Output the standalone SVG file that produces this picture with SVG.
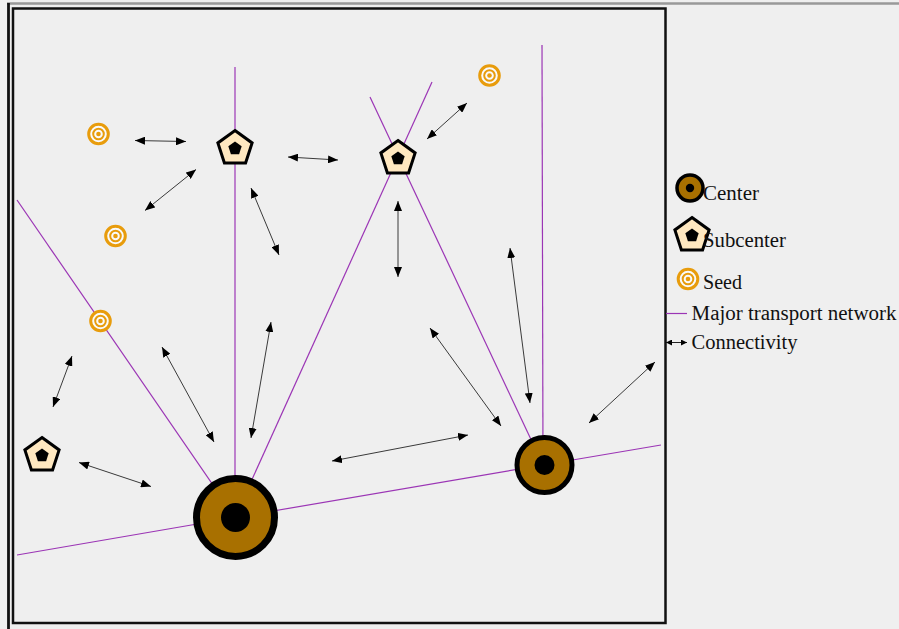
<svg xmlns="http://www.w3.org/2000/svg" xmlns:xlink="http://www.w3.org/1999/xlink" width="899" height="629" viewBox="0 0 899 629">
<style>
  .net { stroke: #9b35b5; stroke-width: 1.2; fill: none; }
  .arr { stroke: #3a3a3a; stroke-width: 1; fill: none; marker-start: url(#ah); marker-end: url(#ah); }
  .larr { stroke: #222; stroke-width: 1; fill: none; marker-start: url(#ahs); marker-end: url(#ahs); }
  .lbl { font-family: "Liberation Serif", "DejaVu Serif", serif; font-size: 20px; fill: #111; }
  .pent { fill: #ffe8c0; stroke: #000; stroke-width: 3; stroke-linejoin: miter; }
  .seed-o { fill: #fafafa; stroke: #e89c0c; stroke-width: 3; }
  .seed-i { fill: none; stroke: #e89c0c; stroke-width: 2; }
  .seed-d { fill: #e89c0c; }
  .ctr { fill: #a87000; stroke: #000; }
</style>
<defs>
  <marker id="ah" markerUnits="userSpaceOnUse" markerWidth="10" markerHeight="8" refX="10" refY="4" orient="auto-start-reverse">
    <path d="M0,0 L10,4 L0,8 z" fill="#000"/>
  </marker>
  <marker id="ahs" markerUnits="userSpaceOnUse" markerWidth="6" markerHeight="6" refX="6" refY="3" orient="auto-start-reverse">
    <path d="M0,0 L6,3 L0,6 z" fill="#000"/>
  </marker>
  <g id="pentagon">
    <polygon class="pent" points="0,-18 17.12,-5.56 10.58,14.56 -10.58,14.56 -17.12,-5.56"/>
    <polygon fill="#000" points="0,-7 6.66,-2.16 4.11,5.66 -4.11,5.66 -6.66,-2.16"/>
  </g>
  <g id="seed">
    <circle class="seed-o" r="9.8"/>
    <circle class="seed-i" r="5.3"/>
    <circle class="seed-d" r="2.3"/>
  </g>
</defs>

<rect x="0" y="0" width="899" height="629" fill="#efefef"/>

<!-- frame -->
<g id="frame">
  <line x1="7" y1="3.5" x2="899" y2="3.5" stroke="#999" stroke-width="2.5"/>
  <line x1="8.5" y1="3" x2="8.5" y2="629" stroke="#111" stroke-width="2.8"/>
  <rect x="13" y="8.5" width="652.5" height="614.5" fill="#efefef" stroke="#111" stroke-width="2.5"/>
</g>

<!-- transport network -->
<g id="network">
  <line class="net" x1="17" y1="200" x2="235" y2="517"/>
  <line class="net" x1="235" y1="67" x2="235" y2="517"/>
  <line class="net" x1="235" y1="517" x2="432" y2="82"/>
  <line class="net" x1="370" y1="97" x2="543" y2="465"/>
  <line class="net" x1="542" y1="45" x2="543" y2="465"/>
  <polyline class="net" points="17,555 235,517.5 543,465 661,445"/>
</g>

<!-- connectivity -->
<g id="connectors">
  <line class="arr" x1="135" y1="140.5" x2="186" y2="141.5"/>
  <line class="arr" x1="145" y1="210.5" x2="196" y2="169.5"/>
  <line class="arr" x1="251" y1="188" x2="279" y2="255"/>
  <line class="arr" x1="288" y1="157" x2="338" y2="160"/>
  <line class="arr" x1="427" y1="139" x2="467" y2="103"/>
  <line class="arr" x1="398" y1="201" x2="398" y2="277"/>
  <line class="arr" x1="510" y1="248" x2="530" y2="403"/>
  <line class="arr" x1="430" y1="328" x2="501" y2="426"/>
  <line class="arr" x1="589" y1="423" x2="655" y2="362"/>
  <line class="arr" x1="332" y1="461" x2="468" y2="435"/>
  <line class="arr" x1="271" y1="322" x2="251" y2="438"/>
  <line class="arr" x1="162" y1="347" x2="214" y2="442"/>
  <line class="arr" x1="72" y1="356" x2="53" y2="407"/>
  <line class="arr" x1="79" y1="462.5" x2="151" y2="486.5"/>
</g>

<!-- centers -->
<g id="center-main">
  <circle class="ctr" cx="235.5" cy="517.5" r="39" stroke-width="7"/>
  <circle cx="235.5" cy="517.5" r="14.5" fill="#000"/>
</g>
<g id="center-east">
  <circle class="ctr" cx="544.5" cy="465" r="27.5" stroke-width="5"/>
  <circle cx="544.5" cy="465" r="10" fill="#000"/>
</g>

<!-- subcenters -->
<g id="subcenter-north"><use xlink:href="#pentagon" href="#pentagon" x="235" y="148.5"/></g>
<g id="subcenter-northeast"><use xlink:href="#pentagon" href="#pentagon" x="398" y="158.5"/></g>
<g id="subcenter-west"><use xlink:href="#pentagon" href="#pentagon" x="42" y="455.5"/></g>

<!-- seeds -->
<g id="seed-1"><use xlink:href="#seed" href="#seed" x="98.5" y="134"/></g>
<g id="seed-2"><use xlink:href="#seed" href="#seed" x="115.5" y="236"/></g>
<g id="seed-3"><use xlink:href="#seed" href="#seed" x="100.5" y="321"/></g>
<g id="seed-4"><use xlink:href="#seed" href="#seed" x="489.5" y="75.5"/></g>

<!-- legend -->
<g id="legend">
  <g id="legend-center">
    <circle class="ctr" cx="690" cy="188" r="13" stroke-width="3.5"/>
    <circle cx="690" cy="188" r="4.2" fill="#000"/>
    <text class="lbl" x="703" y="200" textLength="56" lengthAdjust="spacingAndGlyphs">Center</text>
  </g>
  <g id="legend-subcenter">
    <use xlink:href="#pentagon" href="#pentagon" x="692" y="235.5"/>
    <text class="lbl" x="703" y="247" textLength="83" lengthAdjust="spacingAndGlyphs">Subcenter</text>
  </g>
  <g id="legend-seed">
    <use xlink:href="#seed" href="#seed" x="688" y="279"/>
    <text class="lbl" x="703" y="289" textLength="39" lengthAdjust="spacingAndGlyphs">Seed</text>
  </g>
  <g id="legend-network">
    <line class="net" x1="666" y1="313.5" x2="687" y2="313.5"/>
    <text class="lbl" x="691.5" y="319.5" textLength="205" lengthAdjust="spacingAndGlyphs">Major transport network</text>
  </g>
  <g id="legend-connectivity">
    <line class="larr" x1="666" y1="342.5" x2="687" y2="342.5"/>
    <text class="lbl" x="691.5" y="348.5" textLength="106" lengthAdjust="spacingAndGlyphs">Connectivity</text>
  </g>
</g>
</svg>
